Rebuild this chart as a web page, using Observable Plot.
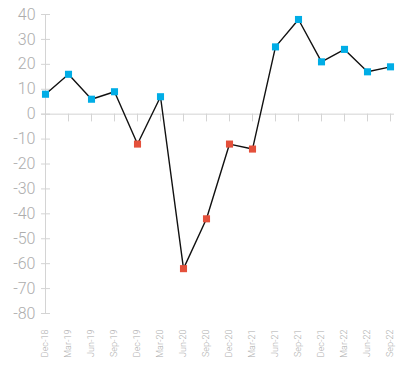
<!DOCTYPE html>
<html>
<head>
<meta charset="utf-8">
<script src="https://cdn.jsdelivr.net/npm/d3@7"></script>
<script src="https://cdn.jsdelivr.net/npm/@observablehq/plot@0.6"></script>
<style>
  html, body { margin: 0; padding: 0; background: #fff; }
  #chart { width: 411px; height: 371px; }
</style>
</head>
<body>
<div id="chart"></div>
<script>
const quarters = ["Dec-18","Mar-19","Jun-19","Sep-19","Dec-19","Mar-20","Jun-20","Sep-20","Dec-20","Mar-21","Jun-21","Sep-21","Dec-21","Mar-22","Jun-22","Sep-22"];
const values = [8, 16, 6, 9, -12, 7, -62, -42, -12, -14, 27, 38, 21, 26, 17, 19];
const yTicks = [40, 30, 20, 10, 0, -10, -20, -30, -40, -50, -60, -70, -80];

const data = quarters.map((q, i) => ({q, v: values[i]}));
const blue = "#00ade6", red = "#e4503b", grey = "#d4d4d4", labelGrey = "#adadad";

const chart = Plot.plot({
  width: 411,
  height: 371,
  marginLeft: 41,
  marginRight: 17,
  marginTop: 14,
  marginBottom: 58,
  style: {fontFamily: "Roboto, sans-serif", background: "#fff"},
  x: {type: "point", domain: quarters, padding: 0},
  y: {domain: [-80, 40], ticks: yTicks},
  marks: [
    Plot.ruleY([0], {stroke: grey, strokeWidth: 1}),
    Plot.ruleX(quarters, {x: d => d, y1: 0, y2: -3.1, stroke: grey, strokeWidth: 1}),
    Plot.ruleX([quarters[0]], {stroke: grey, strokeWidth: 1}),
    Plot.axisY({ticks: yTicks, tickSize: -9, tickPadding: 15, stroke: grey, fontSize: 16, fontWeight: 300, label: null, tickFormat: d => String(d), fill: labelGrey}),
    Plot.axisX({tickSize: 0, tickRotate: -90, tickPadding: 16, fontSize: 9, fontWeight: 300, fill: labelGrey, label: null}),
    Plot.line(data, {x: "q", y: "v", stroke: "#111", strokeWidth: 1.4}),
    Plot.dot(data, {x: "q", y: "v", symbol: "square", r: 4, fill: d => d.v < 0 ? red : blue, stroke: "none"})
  ]
});
document.getElementById("chart").appendChild(chart);
</script>
</body>
</html>
